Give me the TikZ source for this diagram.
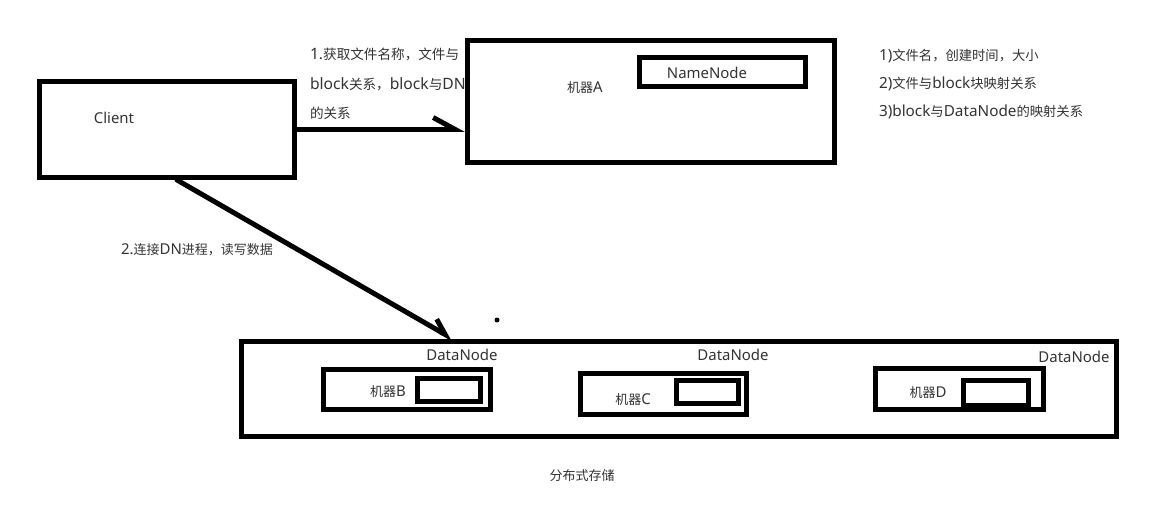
\documentclass[tikz,border=0pt]{standalone}
\usepackage{fontspec}
\setmainfont{Noto Sans}[Scale=1.15]
\newfontfamily\cjk{Noto Sans CJK SC}
\newcommand{\zh}[1]{{\cjk #1}}
\usetikzlibrary{arrows.meta}

\begin{document}
\begin{tikzpicture}[x=1pt, y=-1pt, every node/.style={font=\fontsize{13}{15}\selectfont, text=black!80}]
        \tikzstyle{frame} = [draw, line width=5pt, fill=white, inner sep=0pt]
        \tikzstyle{conn} = [line width=5pt, line cap=round]
        \useasboundingbox (0,0) rectangle (1151,505);
        % step 1 label, partly hidden behind machine A
        \node[anchor=west, align=left, font=\fontsize{13.6}{29.5}\selectfont] (step1) at (306,84) {1.\zh{获取文件名称，文件与}\\block\zh{关系，}block\zh{与}DN\\\zh{的关系}};
        \node[frame, minimum width=255pt, minimum height=96pt] (client) at (167,129.5) {};
        \node (clientlbl) at (114,118) {Client};
        \node[frame, minimum width=367pt, minimum height=122pt] (machA) at (651,101.5) {};
        \node (machAlbl) at (585,88) {\zh{机器}A};
        \node[frame, minimum width=166pt, minimum height=29pt] (nn) at (722.5,72) {};
        \node (nnlbl) at (707,73) {NameNode};
        \node[anchor=west, align=left, font=\fontsize{13.3}{28}\selectfont] (meta) at (875,84) {1)\zh{文件名，创建时间，大小}\\2)\zh{文件与}block\zh{块映射关系}\\3)block\zh{与}DataNode\zh{的映射关系}};
        \node[anchor=west] (step2) at (117,250) {2.\zh{连接}DN\zh{进程，读写数据}};
        % datanodes
        \node[frame, minimum width=875pt, minimum height=95pt] (dn) at (679,389) {};
        \node[frame, minimum width=167pt, minimum height=40pt] (machB) at (407,389.5) {};
        \node[frame, minimum width=63pt, minimum height=23pt] (blkB) at (449,390) {};
        \node (machBlbl) at (388,392) {\zh{机器}B};
        \node (dnB) at (462,355) {DataNode};
        \node[frame, minimum width=166pt, minimum height=41pt] (machC) at (663.5,394) {};
        \node[frame, minimum width=62pt, minimum height=23pt] (blkC) at (707.5,392) {};
        \node (machClbl) at (633,400) {\zh{机器}C};
        \node (dnC) at (733,355) {DataNode};
        \node[frame, minimum width=168pt, minimum height=41pt] (machD) at (959.5,389) {};
        \node[frame, minimum width=65pt, minimum height=25pt] (blkD) at (996,393) {};
        \node (machDlbl) at (928,393) {\zh{机器}D};
        \node (dnD) at (1074,357) {DataNode};
        \node (storage) at (582,476) {\zh{分布式存储}};
        \draw[conn, -{Straight Barb[harpoon, length=22pt, width=24pt]}] (client.east) -- (client.east -| machA.west);
        \draw[conn, -{Straight Barb[harpoon, length=15pt, width=18pt]}] ([xshift=10pt]client.south) -- ([xshift=214pt]dn.north west);
        \fill (497,320) circle (2.5pt);
      \end{tikzpicture}
\end{document}
